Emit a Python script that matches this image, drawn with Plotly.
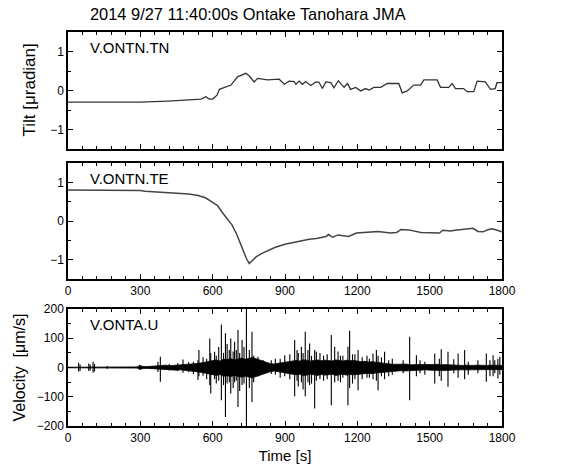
import plotly.graph_objects as go

# ---------------- data ----------------
title_text = "2014 9/27 11:40:00s Ontake Tanohara JMA"
panel_labels = ["V.ONTN.TN", "V.ONTN.TE", "V.ONTA.U"]
x_ticks = [0, 300, 600, 900, 1200, 1500, 1800]

# Tilt N-S component (µradian)
tn_t = [0, 300, 414, 497, 552, 572, 586, 600, 618, 628, 648, 676, 703, 724, 738, 752, 772, 786, 828, 876,
        897, 917, 938, 945, 959, 972, 986, 1007, 1028, 1041, 1055, 1069, 1090, 1103, 1121, 1145, 1159, 1172, 1193, 1214,
        1234, 1248, 1269, 1297, 1324, 1372, 1386, 1407, 1434, 1462, 1476, 1531, 1545, 1579, 1593, 1607, 1641, 1655, 1683, 1697,
        1731, 1752, 1772, 1779, 1800]
tn_v = [-0.30, -0.30, -0.27, -0.25, -0.22, -0.16, -0.22, -0.22, -0.12, 0.03, 0.08, 0.14, 0.35, 0.40, 0.44, 0.37, 0.22, 0.31, 0.27, 0.29,
        0.16, 0.24, 0.23, 0.16, 0.24, 0.16, 0.23, 0.13, 0.22, 0.21, 0.05, 0.22, 0.20, 0.07, 0.25, 0.08, 0.18, 0.03, 0.08, -0.01,
        0.05, 0.01, 0.08, 0.08, 0.18, 0.18, -0.06, -0.01, 0.14, 0.14, 0.27, 0.27, 0.08, 0.08, 0.18, 0.05, 0.05, -0.03, -0.03, 0.24,
        0.22, 0.03, 0.05, 0.20, 0.20]

# Tilt E-W component (µradian)
te_t = [0, 280, 300, 320, 400, 450, 500, 540, 570, 600, 620, 640, 660, 680, 700, 720, 730, 740, 752, 765,
        780, 800, 830, 860, 900, 930, 960, 1000, 1030, 1056, 1070, 1081, 1097, 1120, 1145, 1164, 1196, 1247, 1286, 1337,
        1362, 1381, 1413, 1464, 1541, 1554, 1586, 1605, 1655, 1680, 1700, 1720, 1745, 1760, 1780, 1800]
te_v = [0.80, 0.80, 0.79, 0.77, 0.74, 0.72, 0.70, 0.66, 0.60, 0.48, 0.40, 0.22, 0.05, -0.10, -0.35, -0.65, -0.85, -0.97, -1.10, -1.02,
        -0.93, -0.85, -0.76, -0.68, -0.60, -0.56, -0.52, -0.47, -0.45, -0.42, -0.40, -0.35, -0.42, -0.36, -0.38, -0.40, -0.31, -0.29, -0.27, -0.31,
        -0.30, -0.22, -0.23, -0.30, -0.31, -0.24, -0.26, -0.24, -0.20, -0.19, -0.27, -0.28, -0.22, -0.20, -0.24, -0.28]

# Velocity (µm/s): background envelope every 15 s (upper / lower magnitude)
env_t = list(range(0, 1801, 15))
env_hi = [1, 1, 1, 1, 1, 1, 1, 1, 1, 1, 1, 3, 1, 1, 1, 1, 1, 1, 1.5, 2,
          6, 3, 3, 4, 5, 4, 6, 8, 6, 7, 8, 7, 9, 10, 12, 11, 14, 16, 18, 20,
          24, 26, 22, 28, 27, 30, 26, 29, 32, 28, 30, 34, 30, 26, 22, 16, 13, 12, 14, 15,
          18, 20, 22, 24, 22, 26, 25, 22, 24, 26, 23, 25, 24, 22, 26, 24, 22, 25, 23, 24,
          22, 20, 21, 19, 20, 18, 17, 16, 14, 12, 11, 10, 11, 12, 10, 9, 10, 10, 9, 8,
          9, 10, 11, 9, 10, 9, 8, 9, 8, 7, 8, 7, 7, 8, 7, 8, 7, 8, 7, 7,
          7]
env_lo = [1, 1, 1, 1, 1, 1, 1, 1, 1, 1, 1, 3, 1, 1, 1, 1, 1, 1, 1.5, 2,
          6, 3, 3, 4, 5, 4, 7, 8, 7, 8, 9, 8, 9, 11, 12, 12, 15, 17, 19, 22,
          25, 27, 24, 30, 28, 31, 27, 31, 33, 30, 32, 35, 31, 27, 22, 17, 14, 12, 14, 16,
          19, 21, 23, 25, 23, 27, 26, 23, 25, 27, 24, 26, 25, 23, 27, 25, 23, 26, 24, 25,
          23, 21, 21, 20, 21, 19, 18, 16, 15, 13, 12, 11, 11, 12, 11, 10, 10, 10, 9, 8,
          9, 10, 11, 10, 10, 9, 8, 9, 8, 8, 8, 7, 8, 8, 7, 8, 7, 8, 7, 7,
          7]
# individual large oscillations: time, peak up, peak down (magnitude)
spk_t = [44, 50, 86, 92, 104, 110, 163, 297, 373, 383, 420, 455, 477, 500, 520, 539, 543, 560, 575, 588,
         592, 608, 615, 625, 636, 645, 653, 660, 669, 675, 685, 691, 698, 705, 712, 722, 730, 740, 752, 763,
         770, 788, 810, 843, 860, 880, 899, 920, 940, 950, 955, 968, 975, 984, 995, 1002, 1010, 1023, 1030, 1045,
         1060, 1075, 1092, 1106, 1120, 1130, 1140, 1161, 1168, 1180, 1190, 1203, 1220, 1240, 1250, 1265, 1279, 1286, 1300, 1313,
         1330, 1345, 1390, 1417, 1445, 1460, 1480, 1521, 1540, 1548, 1576, 1600, 1618, 1645, 1660, 1700, 1735, 1750, 1763, 1770,
         1783, 1791]
spk_up = [16, 10, 14, 10, 20, 12, 5, 9, 20, 37, 12, 15, 27, 18, 20, 25, 60, 35, 30, 99,
          50, 54, 40, 70, 147, 50, 117, 80, 60, 99, 55, 88, 60, 128, 50, 94, 70, 200, 60, 122,
          40, 37, 25, 25, 30, 30, 42, 45, 94, 60, 50, 71, 50, 122, 60, 82, 40, 60, 54, 50,
          40, 45, 111, 71, 55, 40, 40, 71, 126, 45, 45, 60, 35, 40, 30, 48, 60, 40, 35, 54,
          25, 30, 25, 105, 42, 25, 20, 48, 30, 62, 54, 28, 48, 60, 20, 25, 48, 25, 42, 25,
          30, 37]
spk_dn = [14, 12, 12, 10, 18, 14, 4, 8, 15, 49, 10, 12, 18, 15, 22, 43, 30, 28, 40, 60,
          89, 40, 55, 45, 112, 60, 169, 55, 50, 89, 70, 50, 45, 135, 80, 60, 55, 200, 70, 118,
          50, 30, 20, 22, 25, 35, 30, 40, 98, 45, 65, 50, 75, 98, 50, 60, 55, 140, 45, 40,
          45, 40, 129, 50, 45, 50, 35, 129, 70, 55, 40, 78, 40, 35, 35, 40, 45, 78, 30, 40,
          30, 25, 20, 112, 30, 20, 25, 55, 30, 45, 66, 20, 35, 40, 25, 20, 49, 30, 30, 20,
          38, 25]

# ---------------- figure ----------------
fig = go.Figure()

fig.add_trace(go.Scatter(x=tn_t, y=tn_v, mode="lines", line=dict(color="#333333", width=1.3),
                         xaxis="x", yaxis="y", showlegend=False, hoverinfo="skip"))
fig.add_trace(go.Scatter(x=te_t, y=te_v, mode="lines", line=dict(color="#444444", width=1.5),
                         xaxis="x2", yaxis="y2", showlegend=False, hoverinfo="skip"))

fig.add_trace(go.Scatter(x=env_t, y=env_hi, mode="lines", line=dict(color="black", width=0.8),
                         xaxis="x3", yaxis="y3", showlegend=False, hoverinfo="skip"))
fig.add_trace(go.Scatter(x=env_t, y=[-v for v in env_lo], mode="lines", line=dict(color="black", width=0.8),
                         fill="tonexty", fillcolor="black",
                         xaxis="x3", yaxis="y3", showlegend=False, hoverinfo="skip"))
sx, sy = [], []
for t, u, d in zip(spk_t, spk_up, spk_dn):
    sx += [t, t, None]
    sy += [-d, u, None]
fig.add_trace(go.Scatter(x=sx, y=sy, mode="lines", line=dict(color="black", width=1.1),
                         xaxis="x3", yaxis="y3", showlegend=False, hoverinfo="skip"))

FONT = "Liberation Sans, Arial, sans-serif"
base = dict(showline=True, linecolor="black", linewidth=1.5, mirror="allticks",
            ticks="inside", ticklen=5, tickwidth=1, tickcolor="black",
            showgrid=False, zeroline=False, tickfont=dict(size=12, color="black", family=FONT))

def xax(anchor, labels):
    d = dict(base)
    d.update(domain=[0, 1], anchor=anchor, range=[0, 1800], tickvals=x_ticks,
             showticklabels=labels,
             minor=dict(dtick=60, ticks="inside", ticklen=3, tickcolor="black", showgrid=False))
    return d

def yax(dom, rng, dt, mdt, anchor):
    d = dict(base)
    d.update(domain=dom, anchor=anchor, range=rng, dtick=dt, tick0=0,
             minor=dict(dtick=mdt, ticks="inside", ticklen=3, tickcolor="black", showgrid=False))
    return d

# plot area target on screen: x 68..502, y 32..426 (page margin removed below)
W, Hf = 563, 475
L, T, R, B = 68, 32, 61, 49
H = Hf - T - B
d1 = [(426 - 149) / H, 1.0]
d2 = [(426 - 279) / H, (426 - 163) / H]
d3 = [0.0, (426 - 309) / H]

xa1 = xax("y", False)
xa2 = xax("y2", True)
xa3 = xax("y3", True)
xa3["title"] = dict(text="Time [s]", font=dict(size=15, color="black", family=FONT), standoff=6)
ya1 = yax(d1, [-1.5, 1.5], 1, 0.5, "x")
ya2 = yax(d2, [-1.5, 1.5], 1, 0.5, "x2")
ya3 = yax(d3, [-200, 200], 100, 50, "x3")

PW = W - L - R
annotations = [
    dict(text=title_text, x=(88 - 68) / PW, y=1 + (32 - 14) / H, xref="paper", yref="paper", showarrow=False,
         xanchor="left", yanchor="middle", font=dict(size=16.4, color="black", family=FONT)),
]
for lab, dom in zip(panel_labels, [d1, d2, d3]):
    annotations.append(dict(text=lab, x=(88 - 68) / PW, y=dom[1] - 15 / H, xref="paper", yref="paper",
                            showarrow=False, xanchor="left", yanchor="middle",
                            font=dict(size=15, color="black", family=FONT)))

annotations.append(dict(text="Tilt [\u03bcradian]", textangle=-90, x=(29 - 68) / PW, y=(d1[0] + d1[1]) / 2,
                        xref="paper", yref="paper", showarrow=False, xanchor="center", yanchor="middle",
                        font=dict(size=17, color="black", family=FONT)))
annotations.append(dict(text="Velocity\u00a0 [\u03bcm/s]", textangle=-90, x=(19 - 68) / PW, y=(d3[0] + d3[1]) / 2,
                        xref="paper", yref="paper", showarrow=False, xanchor="center", yanchor="middle",
                        font=dict(size=16, color="black", family=FONT)))

fig.update_layout(
    width=W, height=Hf,
    margin=dict(l=L, r=R, t=T, b=B),
    paper_bgcolor="white", plot_bgcolor="white",
    font=dict(family=FONT, color="black"),
    xaxis=xa1, xaxis2=xa2, xaxis3=xa3,
    yaxis=ya1, yaxis2=ya2, yaxis3=ya3,
    annotations=annotations,
    showlegend=False,
)

fig.write_html("out.html", config={"displayModeBar": False},
               post_script="document.body.style.margin='0';document.body.style.overflow='hidden';")
